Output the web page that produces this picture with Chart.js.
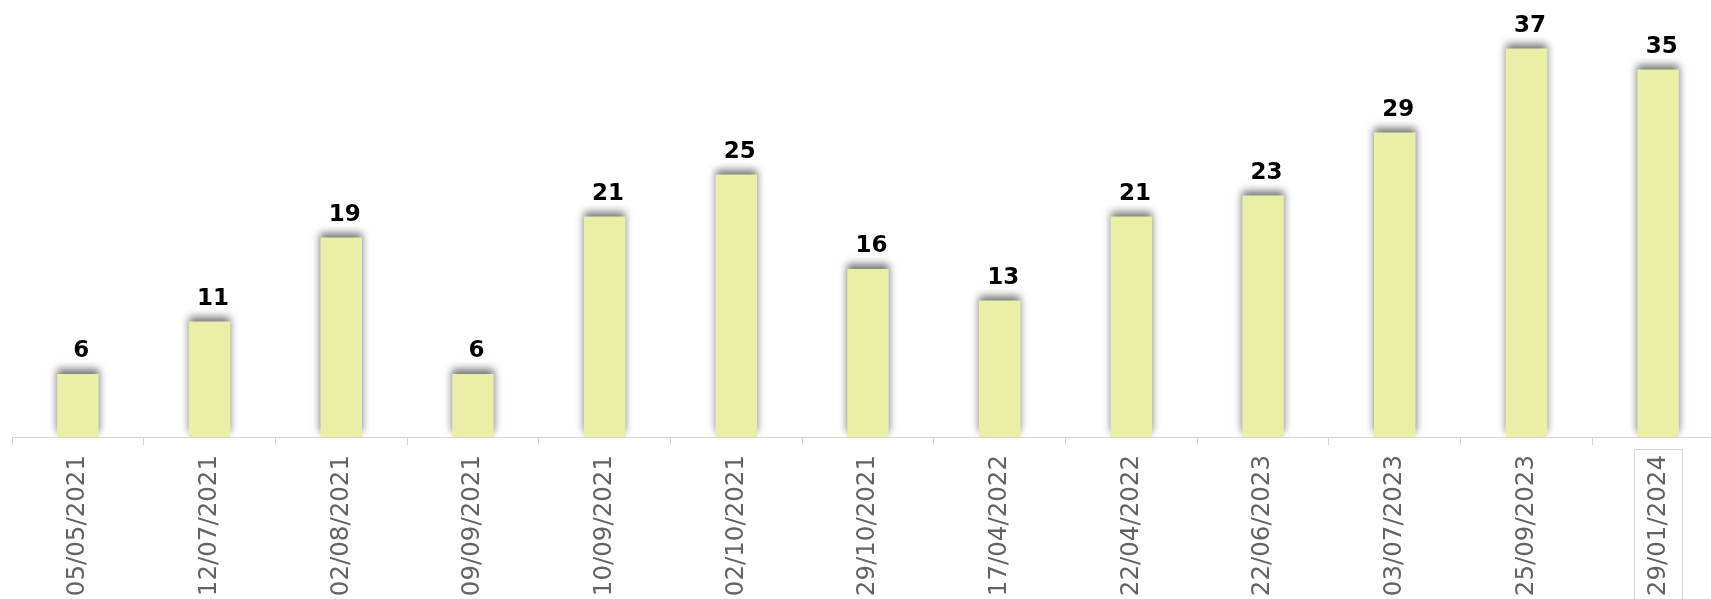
<!DOCTYPE html>
<html>
<head>
<meta charset="utf-8">
<script src="https://cdn.jsdelivr.net/npm/chart.js@4.4.0/dist/chart.umd.min.js"></script>
<style>
    html, body {
        margin: 0;
        padding: 0;
        overflow: hidden;
        background: #ffffff;
    }
    #wrap {
        width: 1724px;
        height: 599px;
    }
</style>
</head>
<body>
<div id="wrap">
    <canvas id="dates_chart" width="1724" height="599"></canvas>
</div>
<script>
    var dates = [
        "05/05/2021", "12/07/2021", "02/08/2021", "09/09/2021", "10/09/2021",
        "02/10/2021", "29/10/2021", "17/04/2022", "22/04/2022", "22/06/2023",
        "03/07/2023", "25/09/2023", "29/01/2024"
    ];
    var counts = [6, 11, 19, 6, 21, 25, 16, 13, 21, 23, 29, 37, 35];
    var yMin = 0;
    var yMax = 40;

    // shadow round the bars, mostly on top
    var barShadow = {
        id: 'barShadow',
        beforeDatasetsDraw: function(chart) {
            var ctx = chart.ctx;
            ctx.save();
            ctx.shadowColor = 'rgba(0,0,0,0.55)';
            ctx.shadowBlur = 8;
            ctx.shadowOffsetX = 0;
            ctx.shadowOffsetY = -5;
        },
        afterDatasetsDraw: function(chart) {
            chart.ctx.restore();
        }
    };

    // value on top of every bar
    var valueLabels = {
        id: 'valueLabels',
        afterDraw: function(chart) {
            var ctx = chart.ctx;
            var meta = chart.getDatasetMeta(0);
            ctx.save();
            ctx.font = 'bold 23px "DejaVu Sans"';
            ctx.fillStyle = '#000000';
            ctx.textAlign = 'center';
            ctx.textBaseline = 'alphabetic';
            meta.data.forEach(function(bar, i) {
                ctx.fillText(String(counts[i]), bar.x + 3.5, bar.y - 17);
            });

            // box round the last date label
            var xs = chart.scales.x;
            var last = xs.getPixelForTick(dates.length - 1);
            ctx.strokeStyle = '#d4d4d4';
            ctx.lineWidth = 1;
            ctx.strokeRect(Math.round(last - 24) + 0.5, xs.top + 12.5, 48, 200);
            ctx.restore();
        }
    };

    var ctx = document.getElementById('dates_chart').getContext('2d');
    var myChart = new Chart(ctx, {
        type: 'bar',
        data: {
            labels: dates,
            datasets: [{
                data: counts,
                backgroundColor: '#e9efa4',
                borderWidth: 0,
                barPercentage: 0.315,
                categoryPercentage: 1.0
            }]
        },
        options: {
            responsive: false,
            animation: false,
            devicePixelRatio: 1,
            layout: {
                padding: { left: 12, right: 0, top: 17, bottom: 0 }
            },
            plugins: {
                legend: { display: false },
                tooltip: { enabled: false }
            },
            scales: {
                x: {
                    offset: true,
                    grid: {
                        offset: true,
                        drawOnChartArea: false,
                        drawTicks: true,
                        tickLength: 8,
                        color: '#d4d4d4'
                    },
                    border: { color: '#d4d4d4', width: 1 },
                    ticks: {
                        minRotation: 90,
                        maxRotation: 90,
                        autoSkip: false,
                        padding: 10,
                        color: '#636363',
                        font: { family: '"DejaVu Sans"', size: 24.5 }
                    },
                    afterFit: function(scale) {
                        scale.height = 162;
                    }
                },
                y: {
                    display: false,
                    min: yMin,
                    max: yMax
                }
            }
        },
        plugins: [barShadow, valueLabels]
    });
</script>
</body>
</html>
